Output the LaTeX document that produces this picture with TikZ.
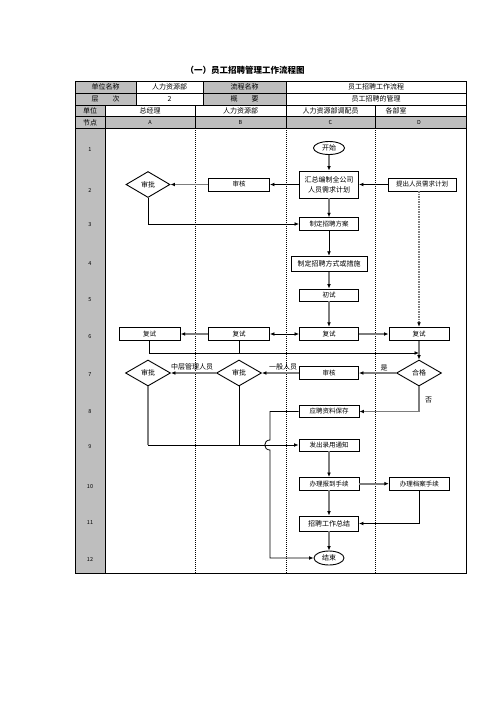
\documentclass[tikz,border=0pt]{standalone}
\usepackage{fontspec}
\setmainfont{Noto Sans CJK SC}
\usetikzlibrary{shapes.geometric,arrows.meta}
\definecolor{hdr}{RGB}{190,190,190}
\definecolor{lg}{RGB}{125,125,125}
\begin{document}
\begin{tikzpicture}[x=1pt,y=-1pt,
  box/.style={draw,line width=0.9pt,fill=white,inner sep=0pt,font=\fontsize{6.5}{9}\selectfont},
  dia/.style={diamond,draw,line width=0.9pt,fill=white,inner sep=0pt,minimum width=45pt,minimum height=26pt,font=\fontsize{7}{8}\selectfont},
  ell/.style={ellipse,draw,line width=0.9pt,fill=white,inner sep=0pt,font=\fontsize{7}{8}\selectfont},
  htxt/.style={inner sep=0pt,font=\fontsize{7}{8}\selectfont},
  rtxt/.style={inner sep=0pt,font=\fontsize{5.5}{6}\selectfont},
  lab/.style={inner sep=0pt,font=\fontsize{7}{8}\selectfont},
  bl/.style={line width=0.8pt,draw=black},
  gl/.style={line width=1.8pt,draw=lg},
  dsh/.style={line width=1.2pt,draw=lg,dash pattern=on 1.5pt off 1pt},
  arr/.style={-{Latex[length=4.5pt,width=3.8pt,black]}},
  arrb/.style={{Latex[length=4.5pt,width=3.8pt,black]}-{Latex[length=4.5pt,width=3.8pt,black]}}
]
\useasboundingbox (0,0) rectangle (496,702);
\node[inner sep=0pt,font=\bfseries\fontsize{8.5}{10}\selectfont] (title) at (245,70) {（一）员工招聘管理工作流程图};
% fills
\fill[hdr] (75,81) rectangle (136,105);
\fill[hdr] (203,81) rectangle (286,105);
\fill[hdr] (75,105) rectangle (105,116.7);
\fill[hdr] (75,116.7) rectangle (466,128);
\fill[hdr] (75,128) rectangle (105,573);
% grid
\draw[line width=0.7pt] (75,93)--(466,93) (75,105)--(466,105) (75,116.7)--(466,116.7) (75,128)--(466,128);
\draw[line width=0.7pt] (136,81)--(136,105) (203,81)--(203,105) (286,81)--(286,105);
\draw[line width=0.7pt] (105,105)--(105,573) (195,105)--(195,128) (286,105)--(286,128) (375,105)--(375,128);
\draw[line width=0.6pt,dash pattern=on 1pt off 1pt] (195,128)--(195,573) (286,128)--(286,573) (375,128)--(375,573);
\draw[line width=1pt] (75,81) rectangle (466,573);
% header texts
\node[htxt] (h11) at (105.5,87) {单位名称};
\node[htxt] (h12) at (169.5,87) {人力资源部};
\node[htxt] (h13) at (244.5,87) {流程名称};
\node[htxt] (h14) at (376,87) {员工招聘工作流程};
\node[htxt] (h21) at (105.5,99) {层　　次};
\node[htxt] (h22) at (169.5,99) {2};
\node[htxt] (h23) at (244.5,99) {概　　要};
\node[htxt] (h24) at (376,99) {员工招聘的管理};
\node[htxt] (h31) at (90,111) {单位};
\node[htxt] (h32) at (150,111) {总经理};
\node[htxt] (h33) at (240.5,111) {人力资源部};
\node[htxt] (h34) at (330.5,111) {人力资源部调配员};
\node[htxt] (h35) at (396,111) {各部室};
\node[htxt] (h41) at (90,122.5) {节点};
\node[rtxt] (h42) at (150,122.5) {A};
\node[rtxt] (h43) at (240.5,122.5) {B};
\node[rtxt] (h44) at (330.5,122.5) {C};
\node[rtxt] (h45) at (419,122.5) {D};
% row labels
\foreach \n/\yy in {1/150,2/190,3/225,4/264,5/300,6/337,7/375,8/412,9/447,10/487,11/523,12/559}
  \node[rtxt] (r\n) at (90,\yy) {\n};
% nodes
\node[ell,minimum width=31pt,minimum height=13pt] (start) at (329,148) {开始};
\node[box,minimum width=59pt,minimum height=27pt,align=center,font=\fontsize{7}{10}\selectfont] (huizong) at (329,184.5) {汇总编制全公司\\人员需求计划};
\node[box,minimum width=61pt,minimum height=13pt] (shenheB) at (239,184.5) {审核};
\node[dia,minimum width=44pt] (shenpiA1) at (148,184.5) {审批};
\node[box,minimum width=68pt,minimum height=13pt] (tichu) at (422,184.5) {提出人员需求计划};
\node[box,minimum width=59pt,minimum height=12.5pt] (fangan) at (329,224) {制定招聘方案};
\node[box,minimum width=76pt,minimum height=15.5pt,font=\fontsize{7}{9}\selectfont] (fangshi) at (329,264) {制定招聘方式或措施};
\node[box,minimum width=59pt,minimum height=12pt] (chushi) at (329,295) {初试};
\node[box,minimum width=61pt,minimum height=13.5pt] (fsA) at (149.7,334) {复试};
\node[box,minimum width=61pt,minimum height=13.5pt] (fsB) at (239,334) {复试};
\node[box,minimum width=59pt,minimum height=13.5pt] (fsC) at (329,334) {复试};
\node[box,minimum width=60pt,minimum height=13.5pt] (fsD) at (419,334) {复试};
\node[dia] (hege) at (419,373) {合格};
\node[box,minimum width=59pt,minimum height=13pt] (shenheC) at (329,373) {审核};
\node[dia] (shenpiB) at (239,373) {审批};
\node[dia] (shenpiA2) at (148,373) {审批};
\node[box,minimum width=60pt,minimum height=12pt] (ziliao) at (329,411.5) {应聘资料保存};
\node[box,minimum width=60pt,minimum height=12pt] (tongzhi) at (329,445) {发出录用通知};
\node[box,minimum width=60pt,minimum height=12.5pt] (baodao) at (329,483.7) {办理报到手续};
\node[box,minimum width=60pt,minimum height=12.5pt] (dangan) at (419.3,483.7) {办理档案手续};
\node[box,minimum width=59pt,minimum height=15pt,font=\fontsize{7}{9}\selectfont] (zongjie) at (329,523.5) {招聘工作总结};
\node[ell,minimum width=30pt,minimum height=14pt] (end) at (329,558) {结束};
% labels
\node[lab] (lzc) at (192,366.5) {中层管理人员};
\node[lab] (lyb) at (283,366.5) {一般人员};
\node[lab] (lshi) at (384,368) {是};
\node[lab] (lfou) at (428.5,400.5) {否};
% helper coordinates
\coordinate (j1) at (419,353);
\coordinate (kx) at (270,0);
\coordinate (h1) at (270,440);
\coordinate (h2) at (270,450);
% connectors
\draw[gl,arr] (start) -- (huizong);
\draw[bl,arr] (tichu) -- (huizong);
\draw[bl,arr] (huizong) -- (shenheB);
\draw[gl,arr] (shenheB) -- (shenpiA1);
\draw[bl,arr] (shenpiA1.south) |- (fangan.west);
\draw[gl,arr] (huizong) -- (fangan);
\draw[bl,arr] (fangan) -- (fangshi);
\draw[gl,arr] (fangshi) -- (chushi);
\draw[gl,arr] (chushi) -- (fsC);
\draw[bl,arrb] (fsC) -- (fsB);
\draw[gl,arr] (fsB) -- (fsA);
\draw[gl,arr] (fsC) -- (fsD);
\draw[dsh,arr] (fsD.north |- tichu.south) -- (fsD.north);
\draw[bl,arr] (fsA.south) |- (j1);
\draw[bl] (fsB.south) -- (fsB.south |- j1);
\draw[gl,arr] (fsD) -- (hege);
\draw[gl,arr] (hege) -- (shenheC);
\draw[gl,arr] (shenheC) -- (shenpiB);
\draw[gl,arr] (shenpiB) -- (shenpiA2);
\draw[gl,arr] (hege.south) |- (ziliao.east);
\draw[gl] (shenpiA2.south) -- (shenpiA2.south |- tongzhi.west);
\draw[bl,arr] (shenpiA2.south |- tongzhi.west) -- (tongzhi.west);
\draw[bl] (shenpiB.south) -- (shenpiB.south |- tongzhi.west);
\draw[bl,arr] (ziliao.west) -- (ziliao.west -| kx) -- (h1) .. controls (263,440) and (263,450) .. (h2) -- (h2 |- end.west) -- (end.west);
\draw[gl,arr] (tongzhi) -- (baodao);
\draw[gl,arr] (baodao) -- (dangan);
\draw[gl,arr] (baodao) -- (zongjie);
\draw[bl,arr] (dangan.south) |- (zongjie.east);
\draw[gl,arr] (zongjie) -- (end);
\end{tikzpicture}
\end{document}
